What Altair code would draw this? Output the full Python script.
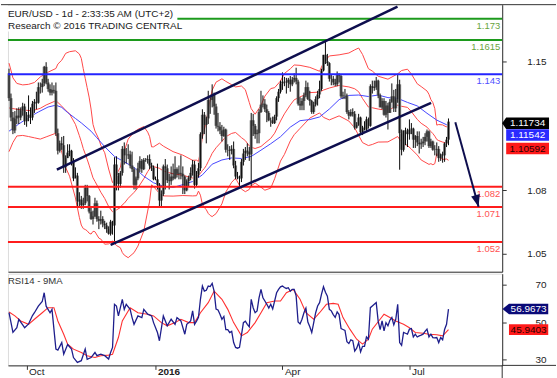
import altair as alt
import pandas as pd

# ---------------- data ----------------
opens = [1.1435,1.1300,1.1195,1.1125,1.1190,1.1205,1.1195,1.1235,1.1255,1.1175,
1.1195,1.1210,1.1195,1.1270,1.1280,1.1275,1.1360,1.1360,1.1380,1.1470,
1.1385,1.1350,1.1330,1.1345,1.1340,1.1110,1.1015,1.1055,1.1045,1.0925,
1.0975,1.1005,1.1015,1.0955,1.0865,1.0880,1.0740,1.0750,1.0720,1.0730,
1.0815,1.0770,1.0685,1.0645,1.0660,1.0730,1.0645,1.0635,1.0645,1.0620,
1.0610,1.0590,1.0565,1.0630,1.0610,1.0940,1.0880,1.0835,1.0895,1.1025,
1.0990,1.0990,1.0995,1.0935,1.0915,1.0830,1.0865,1.0920,1.0960,1.0915,
1.0965,1.0965,1.0970,1.0935,1.0925,1.0860,1.0860,1.0830,1.0745,1.0780,
1.0930,1.0920,1.0855,1.0850,1.0875,1.0865,1.0915,1.0890,1.0895,1.0890,
1.0875,1.0800,1.0850,1.0870,1.0895,1.0940,1.0830,1.0885,1.0920,1.1105,
1.1210,1.1155,1.1190,1.1290,1.1290,1.1320,1.1255,1.1150,1.1145,1.1125,
1.1095,1.1130,1.1020,1.1020,1.1015,1.1025,1.0935,1.0875,1.0870,1.0865,
1.0955,1.1000,1.1015,1.1010,1.0995,1.1180,1.1150,1.1105,1.1110,1.1225,
1.1265,1.1270,1.1240,1.1220,1.1180,1.1180,1.1165,1.1200,1.1300,1.1335,
1.1380,1.1390,1.1390,1.1385,1.1400,1.1375,1.1400,1.1410,1.1390,1.1270,
1.1260,1.1285,1.1315,1.1360,1.1295,1.1285,1.1225,1.1265,1.1295,1.1320,
1.1350,1.1450,1.1535,1.1500,1.1490,1.1405,1.1405,1.1385,1.1375,1.1425,
1.1420,1.1310,1.1315,1.1315,1.1225,1.1205,1.1225,1.1215,1.1140,1.1155,
1.1195,1.1115,1.1140,1.1130,1.1185,1.1150,1.1365,1.1355,1.1360,1.1395,
1.1315,1.1250,1.1285,1.1210,1.1260,1.1220,1.1280,1.1310,1.1245,1.1295,
1.1375,1.1110,1.1020,1.1125,1.1120,1.1105,1.1130,1.1135,1.1075,1.1095,
1.1060,1.1050,1.1055,1.1065,1.1090,1.1120,1.1040,1.1065,1.1020,1.1020,
1.1025,1.0975,1.0995,1.0990,1.1055,1.1075]

highs = [1.1460,1.1325,1.1225,1.1230,1.1245,1.1250,1.1250,1.1275,1.1270,1.1225,
1.1315,1.1250,1.1285,1.1295,1.1335,1.1385,1.1385,1.1405,1.1475,1.1495,
1.1405,1.1375,1.1385,1.1370,1.1385,1.1135,1.1070,1.1090,1.1095,1.0990,
1.1050,1.1050,1.1020,1.0975,1.0925,1.0895,1.0790,1.0770,1.0760,1.0830,
1.0830,1.0775,1.0705,1.0690,1.0760,1.0745,1.0660,1.0690,1.0660,1.0635,
1.0625,1.0605,1.0640,1.0635,1.0980,1.0985,1.0895,1.0905,1.1040,1.1060,
1.1030,1.1050,1.1015,1.1010,1.0925,1.0875,1.0950,1.0985,1.0970,1.0975,
1.0975,1.0990,1.0995,1.0950,1.0935,1.0875,1.0945,1.0840,1.0800,1.0940,
1.0970,1.0940,1.0890,1.0930,1.0945,1.0985,1.0925,1.0935,1.0990,1.0930,
1.0880,1.0860,1.0880,1.0925,1.0965,1.0960,1.0905,1.0950,1.1115,1.1240,
1.1225,1.1200,1.1340,1.1305,1.1375,1.1330,1.1270,1.1220,1.1170,1.1155,
1.1145,1.1135,1.1050,1.1040,1.1045,1.1065,1.0960,1.0900,1.0880,1.0970,
1.1025,1.1035,1.1055,1.1035,1.1220,1.1215,1.1160,1.1130,1.1240,1.1340,
1.1315,1.1295,1.1265,1.1230,1.1195,1.1200,1.1210,1.1310,1.1350,1.1395,
1.1440,1.1415,1.1410,1.1410,1.1420,1.1415,1.1435,1.1465,1.1400,1.1305,
1.1300,1.1330,1.1395,1.1385,1.1340,1.1290,1.1280,1.1310,1.1340,1.1395,
1.1460,1.1535,1.1616,1.1540,1.1495,1.1430,1.1420,1.1405,1.1445,1.1435,
1.1425,1.1335,1.1350,1.1325,1.1235,1.1240,1.1245,1.1230,1.1170,1.1215,
1.1200,1.1150,1.1175,1.1200,1.1195,1.1375,1.1395,1.1395,1.1415,1.1400,
1.1325,1.1300,1.1300,1.1285,1.1275,1.1295,1.1380,1.1345,1.1350,1.1428,
1.1400,1.1130,1.1125,1.1140,1.1135,1.1185,1.1165,1.1140,1.1100,1.1120,
1.1120,1.1080,1.1090,1.1110,1.1130,1.1125,1.1080,1.1070,1.1045,1.1060,
1.1040,1.1000,1.1010,1.1060,1.1090,1.1190]

lows = [1.1285,1.1175,1.1105,1.1110,1.1160,1.1160,1.1180,1.1205,1.1155,1.1145,
1.1175,1.1160,1.1180,1.1220,1.1240,1.1270,1.1325,1.1330,1.1365,1.1375,
1.1335,1.1315,1.1315,1.1325,1.1095,1.0995,1.1005,1.1020,1.0895,1.0895,
1.0975,1.0985,1.0935,1.0850,1.0865,1.0705,1.0715,1.0700,1.0700,1.0720,
1.0740,1.0675,1.0640,1.0615,1.0655,1.0630,1.0590,1.0615,1.0600,1.0590,
1.0570,1.0560,1.0555,1.0560,1.0525,1.0800,1.0800,1.0815,1.0880,1.0940,
1.0945,1.0970,1.0920,1.0900,1.0805,1.0805,1.0855,1.0900,1.0895,1.0910,
1.0955,1.0945,1.0915,1.0905,1.0855,1.0855,1.0805,1.0710,1.0710,1.0770,
1.0805,1.0840,1.0805,1.0830,1.0855,1.0860,1.0870,1.0860,1.0860,1.0780,
1.0780,1.0795,1.0820,1.0855,1.0880,1.0810,1.0820,1.0870,1.0905,1.1080,
1.1105,1.1055,1.1160,1.1215,1.1250,1.1210,1.1135,1.1120,1.1105,1.1065,
1.1090,1.1005,1.0985,1.0965,1.0995,1.0920,1.0860,1.0860,1.0820,1.0845,
1.0935,1.0965,1.0985,1.0960,1.0820,1.1095,1.1080,1.1055,1.1055,1.1220,
1.1250,1.1225,1.1170,1.1175,1.1145,1.1160,1.1160,1.1180,1.1280,1.1325,
1.1345,1.1365,1.1325,1.1355,1.1335,1.1365,1.1385,1.1375,1.1260,1.1235,
1.1235,1.1235,1.1305,1.1290,1.1260,1.1215,1.1215,1.1255,1.1260,1.1300,
1.1340,1.1445,1.1485,1.1475,1.1390,1.1370,1.1370,1.1365,1.1365,1.1385,
1.1300,1.1295,1.1295,1.1215,1.1185,1.1200,1.1200,1.1130,1.1135,1.1150,
1.1110,1.1100,1.1125,1.1120,1.1135,1.1145,1.1325,1.1340,1.1345,1.1300,
1.1250,1.1240,1.1205,1.1195,1.1130,1.1220,1.1275,1.1225,1.1225,1.1275,
1.0912,1.0990,1.1010,1.1045,1.1035,1.1075,1.1105,1.1030,1.1030,1.1040,
1.1000,1.1025,1.1035,1.1045,1.1065,1.1030,1.1030,1.1015,1.0990,1.0985,
1.0955,1.0960,1.0950,1.0955,1.1035,1.1045]

closes = [1.1300,1.1195,1.1125,1.1190,1.1205,1.1195,1.1235,1.1255,1.1175,1.1195,
1.1210,1.1195,1.1270,1.1280,1.1275,1.1360,1.1360,1.1380,1.1470,1.1385,
1.1350,1.1330,1.1345,1.1340,1.1110,1.1015,1.1055,1.1045,1.0925,1.0975,
1.1005,1.1015,1.0955,1.0865,1.0880,1.0740,1.0750,1.0720,1.0730,1.0815,
1.0770,1.0685,1.0645,1.0660,1.0730,1.0645,1.0635,1.0645,1.0620,1.0610,
1.0590,1.0565,1.0630,1.0610,1.0940,1.0880,1.0835,1.0895,1.1025,1.0990,
1.0990,1.0995,1.0935,1.0915,1.0830,1.0865,1.0920,1.0960,1.0915,1.0965,
1.0965,1.0970,1.0935,1.0925,1.0860,1.0860,1.0830,1.0745,1.0780,1.0930,
1.0920,1.0855,1.0850,1.0875,1.0865,1.0915,1.0890,1.0895,1.0890,1.0875,
1.0800,1.0850,1.0870,1.0895,1.0940,1.0830,1.0885,1.0920,1.1105,1.1210,
1.1155,1.1190,1.1290,1.1290,1.1320,1.1255,1.1150,1.1145,1.1125,1.1095,
1.1130,1.1020,1.1020,1.1015,1.1025,1.0935,1.0875,1.0870,1.0865,1.0955,
1.1000,1.1015,1.1010,1.0995,1.1180,1.1150,1.1105,1.1110,1.1225,1.1265,
1.1270,1.1240,1.1220,1.1180,1.1180,1.1165,1.1200,1.1300,1.1335,1.1380,
1.1390,1.1390,1.1385,1.1400,1.1375,1.1400,1.1410,1.1390,1.1270,1.1260,
1.1285,1.1315,1.1360,1.1295,1.1285,1.1225,1.1265,1.1295,1.1320,1.1350,
1.1450,1.1535,1.1500,1.1490,1.1405,1.1405,1.1385,1.1375,1.1425,1.1420,
1.1310,1.1315,1.1315,1.1225,1.1205,1.1225,1.1215,1.1140,1.1155,1.1195,
1.1115,1.1140,1.1130,1.1185,1.1150,1.1365,1.1355,1.1360,1.1395,1.1315,
1.1250,1.1285,1.1210,1.1260,1.1220,1.1280,1.1310,1.1245,1.1295,1.1375,
1.1110,1.1020,1.1125,1.1120,1.1105,1.1130,1.1135,1.1075,1.1095,1.1060,
1.1050,1.1055,1.1065,1.1090,1.1120,1.1040,1.1065,1.1020,1.1020,1.1025,
1.0975,1.0995,1.0990,1.1055,1.1075,1.1173]

# Bollinger (20, 2) bands, 20 MA and 50 MA, as (bar index, price)
bb_upper = [(0,1.1490),(2,1.1410),(4,1.1380),(7,1.1372),(10,1.1375),(13,1.1385),(16,1.1415),(19,1.1436),
(24,1.1461),(25,1.1485),(27,1.1506),(29,1.1543),(31,1.1552),(34,1.1557),(36,1.1540),(37,1.1516),(38,1.1460),
(39,1.1408),(40,1.1357),(41,1.1306),(42,1.1241),(43,1.1158),(44,1.1122),(46,1.1078),(47,1.1044),(49,1.1004),
(51,1.0916),(53,1.0842),(54,1.0861),(55,1.0886),(57,1.0925),(58,1.0980),(59,1.1012),(61,1.1078),(64,1.1116),
(66,1.1131),(69,1.1146),(71,1.1116),(72,1.1091),(73,1.1036),(74,1.1036),(77,1.1056),(79,1.1040),(84,1.1010),
(89,1.0991),(94,1.0963),(96,1.0964),(97,1.0957),(98,1.1011),(99,1.1089),(100,1.1130),(101,1.1175),(102,1.1239),
(103,1.1292),(104,1.1343),(106,1.1387),(109,1.1405),(111,1.1391),(114,1.1373),(116,1.1361),(119,1.1366),
(121,1.1346),(123,1.1277),(124,1.1243),(126,1.1213),(129,1.1260),(131,1.1311),(134,1.1352),(136,1.1357),
(139,1.1393),(141,1.1434),(144,1.1459),(146,1.1480),(149,1.1478),(154,1.1467),(159,1.1446),(161,1.1492),
(164,1.1529),(169,1.1535),(174,1.1545),(177,1.1562),(179,1.1572),(181,1.1537),(184,1.1460),(186,1.1447),
(189,1.1419),(194,1.1403),(199,1.1432),(201,1.1450),(204,1.1457),(206,1.1431),(209,1.1378),(211,1.1363),
(214,1.1339),(215,1.1321),(216,1.1292),(217,1.1276),(218,1.1243),(219,1.1154),(220,1.1157),(222,1.1155),
(224,1.1144),(225,1.1155)]

bb_mid = [(0,1.1247),(4,1.1240),(8,1.1235),(12,1.1232),(16,1.1245),(19,1.1263),(24,1.1286),(25,1.1277),
(27,1.1257),(29,1.1234),(31,1.1215),(34,1.1158),(36,1.1097),(37,1.1064),(38,1.1027),(39,1.0998),(40,1.0969),
(41,1.0937),(42,1.0902),(43,1.0868),(44,1.0849),(46,1.0810),(47,1.0790),(49,1.0756),(51,1.0713),(53,1.0684),
(54,1.0687),(55,1.0694),(57,1.0707),(58,1.0722),(59,1.0730),(61,1.0757),(64,1.0789),(66,1.0814),(69,1.0863),
(71,1.0902),(72,1.0917),(73,1.0933),(74,1.0929),(77,1.0920),(79,1.0905),(84,1.0890),(89,1.0882),(94,1.0867),
(96,1.0868),(97,1.0877),(98,1.0893),(99,1.0907),(100,1.0919),(101,1.0935),(102,1.0957),(103,1.0978),
(104,1.1001),(106,1.1031),(109,1.1066),(111,1.1091),(114,1.1109),(116,1.1114),(119,1.1086),(121,1.1070),
(123,1.1041),(124,1.1034),(126,1.1027),(129,1.1038),(131,1.1056),(134,1.1082),(136,1.1110),(139,1.1176),
(141,1.1215),(144,1.1263),(146,1.1291),(149,1.1307),(154,1.1330),(159,1.1333),(161,1.1344),(164,1.1355),
(169,1.1369),(174,1.1361),(177,1.1351),(179,1.1335),(181,1.1298),(184,1.1252),(186,1.1248),(189,1.1241),
(194,1.1233),(199,1.1262),(201,1.1256),(204,1.1250),(206,1.1227),(209,1.1185),(211,1.1164),(214,1.1143),
(215,1.1131),(216,1.1119),(217,1.1108),(218,1.1094),(219,1.1076),(220,1.1070),(222,1.1062),(224,1.1057),
(225,1.1059)]

bb_lower = [(0,1.1010),(2,1.1060),(4,1.1095),(7,1.1098),(10,1.1092),(13,1.1085),(16,1.1078),(19,1.1090),
(24,1.1110),(25,1.1068),(27,1.1008),(29,1.0924),(31,1.0877),(34,1.0759),(36,1.0654),(37,1.0612),(38,1.0593),
(39,1.0588),(40,1.0581),(41,1.0568),(42,1.0563),(43,1.0578),(44,1.0576),(46,1.0541),(47,1.0536),(49,1.0508),
(51,1.0510),(53,1.0526),(54,1.0513),(55,1.0501),(57,1.0489),(58,1.0463),(59,1.0449),(61,1.0435),(64,1.0462),
(66,1.0498),(69,1.0580),(71,1.0688),(72,1.0742),(73,1.0830),(74,1.0821),(77,1.0784),(79,1.0770),(84,1.0769),
(89,1.0772),(94,1.0770),(96,1.0771),(97,1.0796),(98,1.0774),(99,1.0725),(100,1.0707),(101,1.0695),
(102,1.0675),(103,1.0664),(104,1.0658),(106,1.0674),(109,1.0727),(111,1.0791),(114,1.0844),(116,1.0866),
(119,1.0807),(121,1.0793),(123,1.0805),(124,1.0825),(126,1.0840),(129,1.0817),(131,1.0801),(134,1.0812),
(136,1.0863),(139,1.0959),(141,1.0995),(144,1.1068),(146,1.1102),(149,1.1136),(154,1.1192),(159,1.1220),
(161,1.1196),(164,1.1182),(169,1.1204),(174,1.1176),(177,1.1139),(179,1.1098),(181,1.1059),(184,1.1043),
(186,1.1049),(189,1.1062),(194,1.1063),(199,1.1092),(201,1.1062),(204,1.1043),(206,1.1024),(209,1.0992),
(211,1.0965),(214,1.0947),(215,1.0941),(216,1.0945),(217,1.0939),(218,1.0945),(219,1.0999),(220,1.0982),
(222,1.0968),(224,1.0970),(225,1.0963)]

ma50 = [(0,1.1121),(5,1.1160),(10,1.1195),(15,1.1225),(20,1.1252),(24,1.1262),(27,1.1250),(30,1.1222),
(34,1.1190),(37,1.1166),(42,1.1121),(45,1.1085),(49,1.1037),(54,1.0984),(59,1.0955),(64,1.0924),(69,1.0877),
(74,1.0841),(79,1.0823),(84,1.0816),(89,1.0831),(94,1.0848),(99,1.0884),(104,1.0942),(109,1.0965),
(114,1.0976),(119,1.0973),(124,1.0984),(129,1.1018),(134,1.1053),(139,1.1091),(144,1.1143),(149,1.1178),
(154,1.1184),(159,1.1198),(164,1.1241),(169,1.1292),(174,1.1315),(179,1.1317),(184,1.1309),(189,1.1317),
(194,1.1303),(199,1.1299),(204,1.1277),(209,1.1258),(214,1.1218),(219,1.1181),(224,1.1156),(225,1.1154)]

rsi14 = [(0,55),(2,44.5),(4,47),(5,51.5),(7,48.5),(8,47),(10,49),(12,53.5),(13,55),(15,58.5),(17,61),
(18,65.7),(19,58.5),(21,55),(22,56.8),(24,35.5),(25,35),(27,39),(28,32.8),(30,38),(32,35.5),(33,31),
(35,28.4),(37,29.3),(39,35.5),(40,30),(42,31),(44,33.7),(45,32),(47,32.8),(49,32),(51,30.2),(52,33.7),
(53,36.4),(54,59.5),(55,58.6),(56,53.3),(58,62.2),(59,56.8),(60,59.5),(62,56.8),(63,52.4),(64,48.8),
(66,53.3),(68,52.4),(69,56.8),(71,54.2),(73,53.3),(74,49.7),(76,44.4),(77,40),(79,53.3),(81,48),(83,51.5),
(85,48.8),(86,52.4),(88,50.6),(90,43.5),(91,48.8),(93,50.6),(94,56),(95,48.8),(96,50.5),(97,52.5),
(98,62.2),(99,69.3),(100,66.6),(101,67),(102,69.3),(103,69),(104,70.7),(105,66.6),(106,57),(107,56.5),
(108,54.2),(109,51.5),(110,53),(111,46),(112,46),(113,44.4),(114,45),(115,39),(116,36.4),(117,36),
(118,36.5),(119,43),(120,49.7),(121,50.5),(122,48.8),(123,47.5),(124,62.2),(125,57.7),(126,55),(127,56),
(128,63),(129,67.5),(130,63),(131,61.3),(132,59.5),(133,57.5),(134,59.5),(135,57),(136,61.3),(137,65.7),
(138,67.5),(139,68.9),(140,69.3),(141,68.5),(142,68),(143,68.4),(144,66.5),(145,67.5),(146,67.5),(147,64),
(148,50),(149,49),(150,51.5),(151,55),(152,57.5),(153,50),(154,47.5),(155,44.4),(156,49.7),(157,55),
(158,58.6),(159,60.4),(160,65),(161,68.9),(162,66),(163,63.9),(164,56.8),(165,56),(166,54),(167,52.5),
(168,55.5),(169,54),(170,46.5),(171,46),(172,45.5),(173,39.5),(174,38.5),(175,40.5),(176,40),(177,34.5),
(178,36),(179,39),(180,34),(181,37),(182,37),(183,42),(184,40.8),(185,57.7),(186,58.6),(187,59.5),
(188,60.4),(189,50.5),(190,46),(191,50.6),(192,45.3),(193,49.7),(194,48),(195,51),(196,52.4),(197,48.5),
(198,51.5),(199,59.5),(200,39),(201,37.5),(202,44.4),(203,44),(204,43.5),(205,46.2),(206,46.5),(207,42),
(208,43.5),(209,42),(210,42.6),(211,43),(212,43.5),(213,45),(214,46.2),(215,42),(216,43.5),(217,41.7),
(218,41.5),(219,41.7),(220,39),(221,41.7),(222,40.5),(223,46),(224,48.8),(225,56.97)]

rsi_ma9 = [(0,55.4),(3,53.3),(6,50.6),(10,48.8),(13,51.5),(17,55),(20,57.7),(23,57.7),(25,50.6),(28,43.5),
(30,38.2),(33,35.5),(37,33.7),(40,32),(44,31),(47,32),(51,32.3),(53,32.8),(56,41.7),(58,50.6),(62,57.7),
(66,55),(71,54.2),(74,53.3),(78,49.7),(81,48),(85,49.7),(88,51.5),(92,49.7),(95,49.7),(98,55),(102,60.4),
(105,66.6),(109,62.2),(112,56.8),(115,49.7),(119,42.6),(122,44.4),(126,49.7),(129,55),(132,60.4),
(136,61.3),(139,61.3),(142,65.7),(145.5,67.5),(149,62.2),(152,55),(156,51.5),(159,55),(162.5,59.5),
(166,60),(168.5,59.5),(171,52.4),(174.5,46.2),(178,40.8),(181,38.2),(184,40.8),(186,46.2),(190,51.5),
(192,54.2),(195,52.4),(198,50.6),(202,48.8),(205,47),(208,44.4),(212,44),(215,43.5),(219,43.2),
(222,42.6),(225,45.94)]

level_values = [1.173, 1.1615, 1.143, 1.082, 1.071, 1.052]
level_labels = ["1.173", "1.1615", "1.143", "1.082", "1.071", "1.052"]
level_colors = ["#1c9a1c", "#1c9a1c", "#2424ff", "#ff1c1c", "#ff1c1c", "#ff1c1c"]
level_text_colors = ["#6aa43c", "#6aa43c", "#5050ff", "#ff5252", "#ff5252", "#ff5252"]

channel_upper = [(24.5, 1.0912), (198.9, 1.17965)]
channel_lower = [(52.0, 1.0505), (216.1, 1.1274)]
arrow_pts = [(228.5, 1.1170), (240.4, 1.0711)]

price_ticks = [1.15, 1.08, 1.0458]
rsi_ticks = [30, 50, 70]
x_ticks = [9, 75, 140, 205]
x_tick_labels = ["Oct", "2016", "Apr", "Jul"]

last_values = [1.11734, 1.11542, 1.10592]
last_labels = ["1.11734", "1.11542", "1.10592"]
rsi_last = [56.9673, 45.9403]
rsi_last_labels = ["56.9673", "45.9403"]

title1 = "EUR/USD - 1d - 2:33:35 AM (UTC+2)"
title2 = "Research \u00a9 2016 TRADING CENTRAL"
rsi_title = "RSI14 - 9MA"

# ---------------- layout / style ----------------
FONT = "Liberation Sans"
W, H_MAIN, H_RSI = 496, 268, 92
XS = alt.Scale(domain=[-0.54, 252.5], nice=False, zero=False)
YS = alt.Scale(domain=[1.0359, 1.1807], nice=False, zero=False)
RS = alt.Scale(domain=[26.8, 75.9], nice=False, zero=False)

main_xaxis = alt.Axis(orient="bottom", labels=False, ticks=False, domain=True,
                      domainColor="#333333", grid=False, title=None)
main_yaxis = alt.Axis(orient="right", values=price_ticks, format=".2f", tickSize=4,
                      tickColor="#333333", domainColor="#333333", labelAlign="right",
                      labelPadding=40, labelFontSize=10, labelColor="#222222",
                      labelBaseline="middle", grid=False, title=None, labelFont=FONT)
rsi_yaxis = alt.Axis(orient="right", values=rsi_ticks, format="d", tickSize=4,
                     tickColor="#333333", domainColor="#333333", labelAlign="right",
                     labelPadding=40, labelFontSize=10, labelColor="#222222",
                     labelBaseline="middle", grid=False, title=None, labelFont=FONT)
label_expr = " : ".join(f"datum.value == {v} ? '{t}'" for v, t in zip(x_ticks, x_tick_labels)) + " : ''"
rsi_xaxis = alt.Axis(orient="bottom", values=x_ticks, labelExpr=label_expr, labelAlign="left",
                     labelOffset=2, labelPadding=2, tickSize=4, labelBaseline="middle",
                     labelFontSize=10, labelColor="#222222", tickColor="#333333",
                     domainColor="#333333", grid=False, title=None, labelFlush=False,
                     labelOverlap=False, labelFont=FONT,
                     labelFontWeight={"condition": {"test": f"datum.value == {x_ticks[1]}", "value": "bold"},
                                      "value": "normal"})


def MX(f="i"):
    return alt.X(f"{f}:Q", scale=XS, axis=main_xaxis)


def MY(f="v"):
    return alt.Y(f"{f}:Q", scale=YS, axis=main_yaxis)


def RX(f="i"):
    return alt.X(f"{f}:Q", scale=XS, axis=rsi_xaxis)


def RY(f="v"):
    return alt.Y(f"{f}:Q", scale=RS, axis=rsi_yaxis)


def pts(p):
    return pd.DataFrame(p, columns=["i", "v"])


bars = pd.DataFrame({"i": list(range(len(closes))), "o": opens, "h": highs, "l": lows, "c": closes})

layers = []
for series, col in [(bb_upper, "#ff4848"), (bb_lower, "#ff4848"), (bb_mid, "#ff4848"), (ma50, "#4646ff")]:
    layers.append(alt.Chart(pts(series)).mark_line(color=col, strokeWidth=1).encode(x=MX(), y=MY()))

layers.append(alt.Chart(bars).mark_rule(color="#7a7a7a", strokeWidth=3).encode(
    x=MX(), y=MY("o"), y2=alt.Y2("c")))
layers.append(alt.Chart(bars).mark_rule(color="#0a0a0a", strokeWidth=1).encode(
    x=MX(), y=MY("l"), y2=alt.Y2("h")))

levels = pd.DataFrame({"x0": -0.54, "x1": 252.5, "v": level_values, "lab": level_labels,
                       "col": level_colors, "tcol": level_text_colors})
layers.append(alt.Chart(levels).mark_rule(strokeWidth=2).encode(
    x=MX("x0"), x2=alt.X2("x1"), y=MY(), color=alt.Color("col:N", scale=None)))

# white box behind the title block
layers.append(alt.Chart(pd.DataFrame({"a": [0]})).mark_rect(color="white").encode(
    x=alt.value(0), x2=alt.value(170), y=alt.value(1), y2=alt.value(27)))

layers.append(alt.Chart(levels).mark_text(align="right", baseline="top", dx=-2, dy=2,
                                          fontSize=9.5, font=FONT).encode(
    x=MX("x1"), y=MY(), text="lab:N", color=alt.Color("tcol:N", scale=None)))

chan = pd.DataFrame([(x, y, "u") for x, y in channel_upper] + [(x, y, "l") for x, y in channel_lower],
                    columns=["i", "v", "line"])
layers.append(alt.Chart(chan).mark_line(color="#0e0e4e", strokeWidth=2.5, clip=True).encode(
    x=MX(), y=MY(), detail="line:N"))

layers.append(alt.Chart(pts(arrow_pts)).mark_line(color="#0e0e4e", strokeWidth=2).encode(x=MX(), y=MY()))
layers.append(alt.Chart(pts(arrow_pts[1:])).mark_point(
    shape="M0,0L-0.45,-1.2L0.45,-1.2Z", size=400, filled=True, opacity=1,
    color="#0e0e4e", angle=345).encode(x=MX(), y=MY()))

for txt, yy in [(title1, 12.5), (title2, 24.5)]:
    layers.append(alt.Chart(pd.DataFrame({"t": [txt]})).mark_text(
        align="left", baseline="alphabetic", fontSize=10, font=FONT, color="#1a1a1a").encode(
        x=alt.value(0), y=alt.value(yy), text="t:N"))

ARROW_TAG = "M-1.19,0L-1,-0.27L1,-0.27L1,0.27L-1,0.27Z"
BOX_TAG = "M-1,-0.27L1,-0.27L1,0.27L-1,0.27Z"
tag_fill = ["#000000", "#2a2aff", "#ff1a1a"]
tag_text = ["#ffffff", "#ffffff", "#2a0000"]
tag_off = [1.7, 10.0, 6.0]
for k in range(3):
    d = pd.DataFrame({"v": [last_values[k]], "t": [last_labels[k]]})
    layers.append(alt.Chart(d).mark_point(
        shape=ARROW_TAG if k == 0 else BOX_TAG, size=1849, filled=True, opacity=1,
        color=tag_fill[k], yOffset=tag_off[k]).encode(x=alt.value(521.5), y=MY()))
    layers.append(alt.Chart(d).mark_text(
        color=tag_text[k], fontSize=10, font=FONT, align="center", baseline="middle",
        dy=tag_off[k]).encode(x=alt.value(521.5), y=MY(), text="t:N"))

# top frame line (the leftmost element: it sets the 7px left margin)
layers.append(alt.Chart(pd.DataFrame({"a": [0]})).mark_rule(color="#333333", strokeWidth=1).encode(
    x=alt.value(-7), x2=alt.value(550), y=alt.value(0)))

main = alt.layer(*layers).properties(width=W, height=H_MAIN)

# ---------------- RSI panel ----------------
rl = []
rl.append(alt.Chart(pts(rsi_ma9)).mark_line(color="#ff3030", strokeWidth=1.1).encode(x=RX(), y=RY()))
rl.append(alt.Chart(pts(rsi14)).mark_line(color="#1e1e8c", strokeWidth=1.3).encode(x=RX(), y=RY()))
rl.append(alt.Chart(pd.DataFrame({"t": [rsi_title]})).mark_text(
    align="left", baseline="alphabetic", fontSize=9.6, font=FONT, color="#333333").encode(
    x=alt.value(0), y=alt.value(10), text="t:N"))
RSI_ARROW = "M-1.33,0L-1,-0.27L1,-0.27L1,0.27L-1,0.27Z"
rtag_fill = ["#0a0a78", "#ff1a1a"]
rtag_text = ["#ffffff", "#2a0000"]
for k in range(2):
    d = pd.DataFrame({"v": [rsi_last[k]], "t": [rsi_last_labels[k]]})
    rl.append(alt.Chart(d).mark_point(
        shape=RSI_ARROW if k == 0 else BOX_TAG, size=1552, filled=True, opacity=1,
        color=rtag_fill[k]).encode(x=alt.value(522.5), y=RY()))
    rl.append(alt.Chart(d).mark_text(
        color=rtag_text[k], fontSize=10, font=FONT, align="center", baseline="middle").encode(
        x=alt.value(522.5), y=RY(), text="t:N"))
rl.append(alt.Chart(pd.DataFrame({"a": [0]})).mark_rule(color="#333333", strokeWidth=1).encode(
    x=alt.value(W), x2=alt.value(550), y=alt.value(H_RSI)))
rl.append(alt.Chart(pd.DataFrame({"a": [0]})).mark_rule(color="#333333", strokeWidth=1).encode(
    x=alt.value(W), y=alt.value(H_RSI), y2=alt.value(H_RSI + 16)))

rsi = alt.layer(*rl).properties(width=W, height=H_RSI)

chart = alt.vconcat(main, rsi, spacing=0).properties(
    padding={"left": 0, "top": 3, "right": 0, "bottom": 0},
    background="white",
).configure_view(strokeWidth=0).configure(font=FONT)

chart.save("out.html", embed_options={"renderer": "svg", "actions": False})
